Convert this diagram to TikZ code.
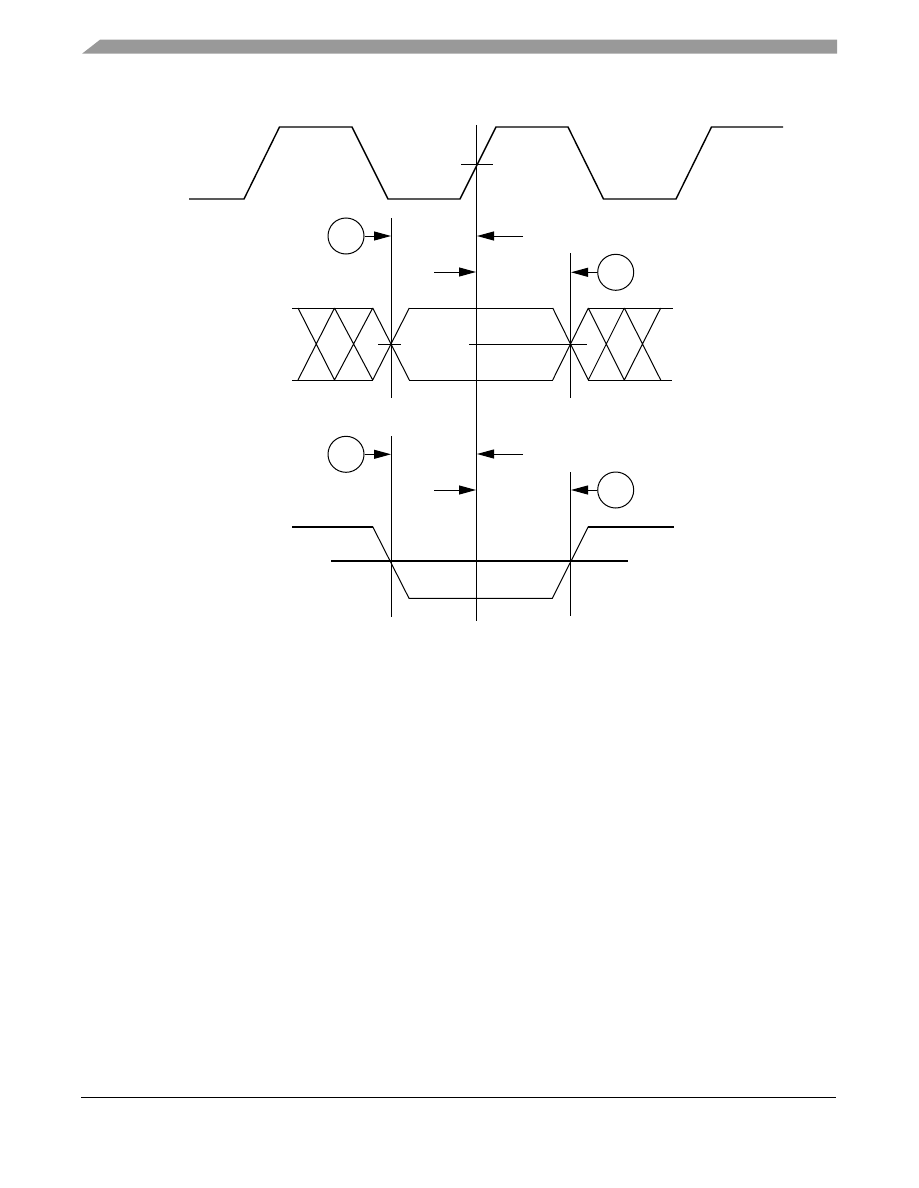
\documentclass[tikz,border=0pt]{standalone}
\usetikzlibrary{arrows.meta}
\definecolor{hdrgray}{HTML}{999999}
\begin{document}
\begin{tikzpicture}[x=1pt,y=-1pt,
  sig/.style={line width=1.4pt,line join=miter},
  thin/.style={line width=1pt},
  thick2/.style={line width=2.4pt},
  vline/.style={line width=1pt},
  marker/.style={circle,draw,line width=1pt,minimum size=36pt,inner sep=0pt},
  arr/.style={line width=1pt,-{Triangle[length=17pt,width=9pt]}}]
\useasboundingbox (0,0) rectangle (918,1188);
% header bar and footer rule
\fill[hdrgray] (82,53.7) -- (100,39.7) -- (837,39.7) -- (837,53.7) -- cycle;
\coordinate (fL) at (81,1097.3);
\coordinate (fR) at (836,1097.3);
\draw[line width=1.5pt] (fL) -- (fR);
% clock
\draw[sig] (189,199) -- (244,199) -- (279.5,127) -- (352,127) -- (388,199) -- (460,199)
  -- (496,127) -- (568,127) -- (603.5,199) -- (676,199) -- (711.5,127) -- (783,127);
\coordinate (ckA) at (461,164);
\coordinate (ckB) at (493,164);
\draw[thin] (ckA) -- (ckB);
% vertical reference lines
\coordinate (cT) at (476,125);
\coordinate (cB) at (476,620.7);
\draw[vline] (cT) -- (cB);
\coordinate (l1T) at (391,218);
\coordinate (l1B) at (391,398);
\draw[vline] (l1T) -- (l1B);
\coordinate (r1T) at (570,253);
\coordinate (r1B) at (570,398);
\draw[vline] (r1T) -- (r1B);
\coordinate (l2T) at (391,436);
\coordinate (l2B) at (391,617);
\draw[vline] (l2T) -- (l2B);
\coordinate (r2T) at (570,472);
\coordinate (r2B) at (570,616);
\draw[vline] (r2T) -- (r2B);
% markers
\node[marker] (m1) at (346,236) {};
\node[marker] (m2) at (615.7,272.3) {};
\node[marker] (m3) at (346,454.3) {};
\node[marker] (m4) at (615.7,490) {};
% arrows upper
\coordinate (a1) at (391,236);
\draw[arr] (m1.east) -- (a1);
\coordinate (a2s) at (523,236);
\coordinate (a2e) at (477,236);
\draw[arr] (a2s) -- (a2e);
\coordinate (a3s) at (434,272);
\coordinate (a3e) at (476,272);
\draw[arr] (a3s) -- (a3e);
\coordinate (a4) at (571,272.3);
\draw[arr] (m2.west) -- (a4);
% arrows lower
\coordinate (b1) at (391,454.3);
\draw[arr] (m3.east) -- (b1);
\coordinate (b2s) at (523,454);
\coordinate (b2e) at (477,454);
\draw[arr] (b2s) -- (b2e);
\coordinate (b3s) at (434,490);
\coordinate (b3e) at (476,490);
\draw[arr] (b3s) -- (b3e);
\coordinate (b4) at (571,490);
\draw[arr] (m4.west) -- (b4);
% data bus
\draw[thin] (292,308) -- (372.7,308);
\draw[thin] (292,380) -- (372.7,380);
\draw[thin] (298,308) -- (334.5,380) (298,380) -- (334.5,308)
            (334.5,308) -- (372.7,380) (334.5,380) -- (372.7,308)
            (372.7,308) -- (409.3,380) (372.7,380) -- (409.3,308);
\draw[thin] (409.3,308) -- (552.7,308);
\draw[thin] (409.3,380) -- (552.7,380);
\draw[thin] (552.7,308) -- (588.3,380) (552.7,380) -- (588.3,308)
            (588.3,308) -- (624.3,380) (588.3,380) -- (624.3,308)
            (624.3,308) -- (660.7,380) (624.3,380) -- (660.7,308);
\draw[thin] (588.3,308) -- (673,308);
\draw[thin] (588.3,380) -- (672,380);
\coordinate (dt1) at (378,344);
\coordinate (dt2) at (401,344);
\draw[thin] (dt1) -- (dt2);
\coordinate (dm1) at (469,344);
\coordinate (dm2) at (587,344);
\draw[thin] (dm1) -- (dm2);
% lower signal
\draw[thick2] (292,526.7) -- (372.7,526.7);
\draw[thin] (372.7,526.7) -- (409,598.3) -- (552.3,598.3) -- (588.3,526.7);
\draw[thick2] (588.3,526.7) -- (674,526.7);
\coordinate (th1) at (331,560.7);
\coordinate (th2) at (628.3,560.7);
\draw[thick2] (th1) -- (th2);
\end{tikzpicture}
\end{document}
